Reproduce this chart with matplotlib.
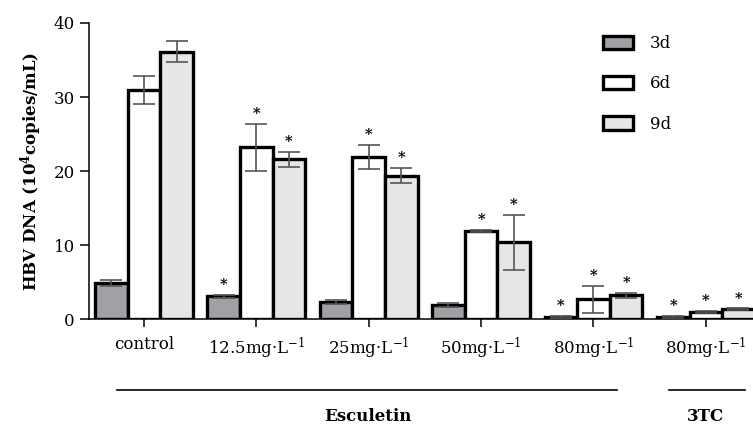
import numpy as np
import matplotlib
matplotlib.use("Agg")
import matplotlib.pyplot as plt

plt.rcParams['font.family'] = ['DejaVu Serif']
plt.rcParams['mathtext.fontset'] = 'dejavuserif'

groups = ['control', '12.5mg·L$^{-1}$', '25mg·L$^{-1}$', '50mg·L$^{-1}$',
          '80mg·L$^{-1}$', '80mg·L$^{-1}$']
days = ['3d', '6d', '9d']

d3 = [4.9, 3.1, 2.3, 1.9, 0.3, 0.3]
d3_err = [0.4, 0.2, 0.3, 0.3, 0.1, 0.1]
d6 = [31.0, 23.2, 21.9, 11.9, 2.7, 1.0]
d6_err = [1.9, 3.2, 1.6, 0.15, 1.8, 0.1]
d9 = [36.1, 21.6, 19.4, 10.4, 3.2, 1.35]
d9_err = [1.4, 1.0, 1.0, 3.7, 0.3, 0.1]

# significance marks per series (True -> draw "*")
sig3 = [False, True, False, False, True, True]
sig6 = [False, True, True, True, True, True]
sig9 = [False, True, True, True, True, True]

colors = ['#a0a0a5', '#ffffff', '#e6e6e6']

fig = plt.figure(figsize=(7.53, 4.25), dpi=100)
ax = fig.add_axes([0.118, 0.249, 0.882, 0.697])

x = np.arange(len(groups))
w = 0.29
series = [(d3, d3_err, sig3), (d6, d6_err, sig6), (d9, d9_err, sig9)]
for i, (vals, errs, sig) in enumerate(series):
    pos = x + (i - 1) * w
    ax.bar(pos, vals, w, color=colors[i], edgecolor='black', linewidth=2.4,
           label=days[i], zorder=2)
    ax.errorbar(pos, vals, yerr=errs, fmt='none', ecolor='#555555',
                elinewidth=1.2, capsize=8, capthick=1.2, zorder=3)
    for p, v, e, s in zip(pos, vals, errs, sig):
        if s:
            ax.annotate('*', (p, v + e), xytext=(0, 2), textcoords='offset points',
                        ha='center', va='bottom', fontsize=10.5, fontweight='bold')

ax.set_xlim(-0.49, 5.42)
ax.set_ylim(0, 40)
ax.set_yticks([0, 10, 20, 30, 40])
ax.set_xticks(x)
ax.set_xticklabels(groups, fontsize=12)
ax.tick_params(axis='y', labelsize=12, length=6.5, width=1.1)
ax.tick_params(axis='x', length=6, width=1.1, pad=6)
for s in ['top', 'right']:
    ax.spines[s].set_visible(False)
for s in ['left', 'bottom']:
    ax.spines[s].set_linewidth(1.1)

ax.set_ylabel('HBV DNA (10$^\\mathbf{4}$copies/mL)', fontsize=12,
              fontweight='bold', labelpad=7)

# group brackets under the axis
tr = ax.get_xaxis_transform()
ax.plot([-0.24, 4.21], [-0.24, -0.24], color='black', lw=1.2,
        transform=tr, clip_on=False)
ax.plot([4.67, 5.35], [-0.24, -0.24], color='black', lw=1.2,
        transform=tr, clip_on=False)
ax.text(1.99, -0.33, 'Esculetin', transform=tr, ha='center', va='center',
        fontsize=12, fontweight='bold')
ax.text(5.0, -0.33, '3TC', transform=tr, ha='center', va='center',
        fontsize=12, fontweight='bold')

ax.legend(loc='upper left', bbox_to_anchor=(603 / 753, 1 - 35 / 425),
          bbox_transform=fig.transFigure, frameon=False, fontsize=12,
          handlelength=1.8, handleheight=0.85, handletextpad=1.0,
          labelspacing=1.4, borderpad=0, borderaxespad=0)

fig.savefig('out.png', dpi=100)
